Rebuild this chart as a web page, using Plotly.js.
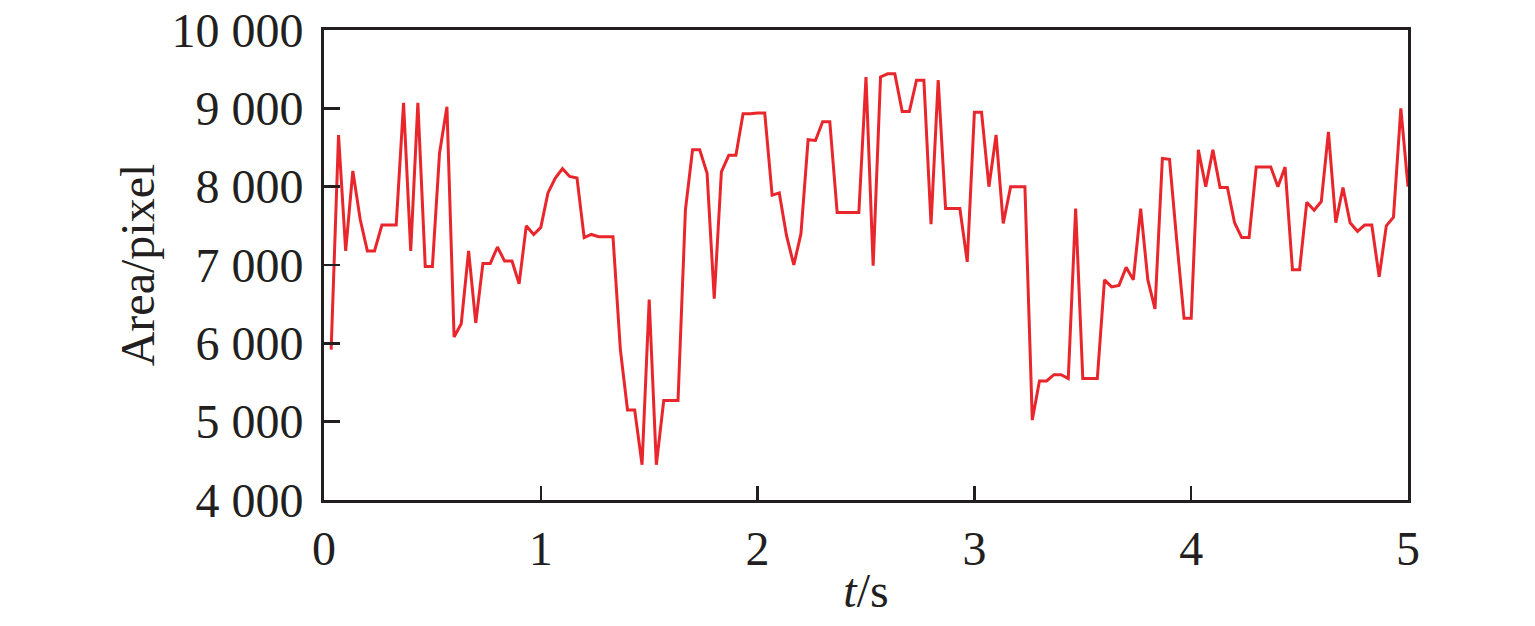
<!DOCTYPE html>
<html>
<head>
<meta charset="utf-8">
<script src="https://cdn.plot.ly/plotly-3.0.1.min.js"></script>
<style>html,body{margin:0;padding:0;background:#fff;}#chart{width:1535px;height:626px;}</style>
</head>
<body>
<div id="chart"></div>
<script>
// Sample times (s)
const times = [
0.033,0.067,0.1,0.133,0.167,0.2,0.233,0.267,0.3,0.333,
0.367,0.4,0.433,0.467,0.5,0.533,0.567,0.6,0.633,0.667,
0.7,0.733,0.767,0.8,0.833,0.867,0.9,0.933,0.967,1.0,
1.033,1.067,1.1,1.133,1.167,1.2,1.233,1.267,1.3,1.333,
1.367,1.4,1.433,1.467,1.5,1.533,1.567,1.6,1.633,1.667,
1.7,1.733,1.767,1.8,1.833,1.867,1.9,1.933,1.967,2.0,
2.033,2.067,2.1,2.133,2.167,2.2,2.233,2.267,2.3,2.333,
2.367,2.4,2.433,2.467,2.5,2.533,2.567,2.6,2.633,2.667,
2.7,2.733,2.767,2.8,2.833,2.867,2.9,2.933,2.967,3.0,
3.033,3.067,3.1,3.133,3.167,3.2,3.233,3.267,3.3,3.333,
3.367,3.4,3.433,3.467,3.5,3.533,3.567,3.6,3.633,3.667,
3.7,3.733,3.767,3.8,3.833,3.867,3.9,3.933,3.967,4.0,
4.033,4.067,4.1,4.133,4.167,4.2,4.233,4.267,4.3,4.333,
4.367,4.4,4.433,4.467,4.5,4.533,4.567,4.6,4.633,4.667,
4.7,4.733,4.767,4.8,4.833,4.867,4.9,4.933,4.967,5.0
];
// Area (pixel)
const areas = [
5920,8660,7180,8200,7580,7180,7180,7510,7510,7510,
9070,7180,9070,6980,6980,8430,9020,6080,6250,7180,
6260,7020,7020,7230,7050,7050,6760,7500,7390,7480,
7920,8110,8230,8130,8110,7350,7390,7360,7360,7360,
5920,5150,5150,4450,6560,4450,5270,5270,5270,7700,
8470,8470,8170,6570,8190,8400,8400,8930,8930,8940,
8940,7890,7920,7380,7000,7400,8600,8590,8830,8830,
7670,7670,7670,7670,9400,6990,9400,9440,9440,8960,
8960,9360,9360,7520,9360,7720,7720,7720,7040,8950,
8950,8000,8660,7530,8000,8000,8000,5020,5520,5520,
5600,5600,5550,7720,5550,5550,5550,6810,6720,6740,
6970,6810,7720,6810,6440,8360,8350,7320,6320,6320,
8470,8000,8470,7990,7990,7540,7350,7350,8250,8250,
8250,8000,8250,6940,6940,7800,7700,7810,8700,7540,
7990,7540,7430,7510,7510,6850,7500,7610,9000,8000
];
const yTickVals = [4000,5000,6000,7000,8000,9000,10000];
const yTickText = ["4 000","5 000","6 000","7 000","8 000","9 000","10 000"];
const xTickVals = [0,1,2,3,4,5];
const xTickText = ["0","1","2","3","4","5"];

const font = "Liberation Serif";
const axisColor = "#231f20";

Plotly.newPlot("chart", [{
  x: times, y: areas, type: "scatter", mode: "lines",
  line: {color: "#e8262c", width: 3},
  hoverinfo: "skip"
}], {
  width: 1535, height: 626,
  margin: {l: 324, r: 127, t: 30, b: 126},
  paper_bgcolor: "#fff", plot_bgcolor: "#fff",
  showlegend: false,
  font: {family: font, size: 48, color: axisColor},
  xaxis: {
    range: [0, 5], tickmode: "array", tickvals: xTickVals, ticktext: xTickText,
    ticks: "inside", ticklen: 14, tickwidth: 2.4, tickcolor: axisColor,
    showline: true, linewidth: 3, linecolor: axisColor, mirror: true,
    showgrid: false, zeroline: false,
    tickfont: {family: font, size: 48, color: axisColor},
    ticklabelstandoff: 4,
    title: {text: "<i>t</i>/s", font: {family: font, size: 48, color: axisColor}, standoff: 0}
  },
  yaxis: {
    range: [4000, 10000], tickmode: "array", tickvals: yTickVals, ticktext: yTickText,
    ticks: "inside", ticklen: 16, tickwidth: 2.4, tickcolor: axisColor,
    showline: true, linewidth: 3, linecolor: axisColor, mirror: true,
    showgrid: false, zeroline: false,
    tickfont: {family: font, size: 48, color: axisColor},
    ticklabelstandoff: 8,
    title: {text: "Area/pixel", font: {family: font, size: 48, color: axisColor}, standoff: 2}
  }
}, {staticPlot: true});
</script>
</body>
</html>
